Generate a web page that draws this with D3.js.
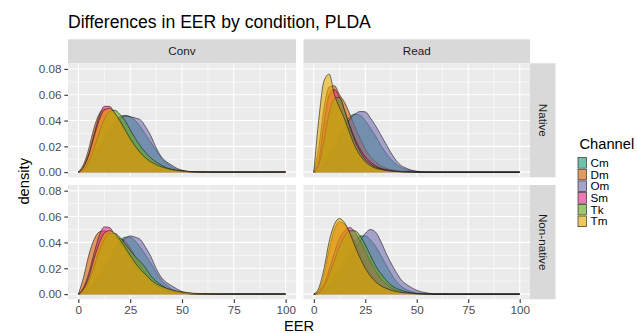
<!DOCTYPE html>
<html>
<head>
<meta charset="utf-8">
<script src="https://cdn.jsdelivr.net/npm/d3@7"></script>
<style>
  body { margin: 0; background: #fff; }
  svg { display: block; font-family: "Liberation Sans", Arial, sans-serif; }
</style>
</head>
<body>
<div id="chart"></div>
<script>

// EER grid the densities were read at
const eer = [0, 2.5, 5, 7.5, 10, 12.5, 15, 17.5, 20, 22.5, 25, 27.5, 30, 32.5, 35, 37.5, 40,
  42.5, 45, 47.5, 50, 52.5, 55, 57.5, 60, 65, 70, 80, 90, 100];

const channels = ["Cm", "Dm", "Om", "Sm", "Tk", "Tm"];
const channelColors = ["#1B9E77", "#D95F02", "#7570B3", "#E7298A", "#66A61E", "#E6AB02"];

const conditions = ["Conv", "Read"];
const nativeness = ["Native", "Non-native"];

const xTicks = [0, 25, 50, 75, 100];
const yTicks = [0, 0.02, 0.04, 0.06, 0.08];

// one row per channel, in the order of `channels`
const densConvNative = [
  [0, .002, .006, .012, .019, .027, .034, .039, .043, .044, .043, .040, .035, .029, .023, .017, .011, .007, .004, .002, .001, .0005, .0002, .0001, 0, 0, 0, 0, 0, 0],
  [0, .006, .018, .034, .045, .049, .048, .044, .038, .031, .025, .019, .014, .010, .007, .005, .0035, .0025, .0017, .0011, .0007, .0004, .0002, .0001, .0001, 0, 0, 0, 0, 0],
  [0, .0015, .005, .010, .016, .023, .030, .036, .041, .0435, .043, .042, .0405, .035, .028, .019, .012, .008, .0055, .003, .0015, .0007, .0003, .0001, 0, 0, 0, 0, 0, 0],
  [0, .004, .014, .029, .043, .051, .051, .046, .039, .032, .025, .019, .014, .010, .007, .005, .0035, .0024, .0016, .001, .0006, .0003, .0002, .0001, 0, 0, 0, 0, 0, 0],
  [0, .002, .008, .018, .030, .041, .047, .048, .045, .040, .033, .026, .020, .015, .011, .008, .0055, .0035, .0022, .0013, .0008, .0005, .0003, .0002, .0001, 0, 0, 0, 0, 0],
  [0, .004, .013, .027, .040, .048, .0495, .046, .040, .033, .026, .020, .015, .011, .008, .006, .0042, .003, .002, .0014, .0009, .0006, .0004, .0003, .0002, .0001, .0001, .0001, .0001, .0004]
];

const densReadNative = [
  [0, .002, .007, .014, .022, .031, .038, .043, .045, .044, .040, .034, .028, .021, .015, .010, .006, .0035, .002, .001, .0005, .0002, .0001, 0, 0, 0, 0, 0, 0, 0],
  [0, .020, .050, .066, .067, .060, .054, .045, .035, .026, .018, .012, .008, .005, .003, .002, .0012, .0007, .0004, .0002, .0001, 0, 0, 0, 0, 0, 0, 0, 0, 0],
  [0, .001, .004, .009, .016, .025, .034, .041, .045, .047, .0468, .042, .036, .029, .022, .015, .009, .005, .003, .0015, .0007, .0003, .0001, 0, 0, 0, 0, 0, 0, 0],
  [0, .010, .038, .060, .064, .058, .047, .036, .026, .018, .012, .008, .005, .003, .002, .0012, .0007, .0004, .0002, .0001, 0, 0, 0, 0, 0, 0, 0, 0, 0, 0],
  [0, .006, .025, .046, .057, .058, .048, .035, .024, .016, .010, .0065, .004, .0025, .0015, .0009, .0005, .0003, .0001, 0, 0, 0, 0, 0, 0, 0, 0, 0, 0, 0],
  [0, .042, .071, .076, .060, .050, .041, .030, .020, .013, .008, .005, .003, .002, .0013, .0008, .0005, .0003, .0002, .0001, 0, 0, 0, 0, 0, 0, 0, 0, 0, 0]
];

const densConvNonNative = [
  [0, .001, .004, .008, .014, .021, .029, .036, .041, .044, .044, .041, .036, .030, .024, .017, .011, .007, .004, .002, .001, .0005, .0002, .0001, 0, 0, 0, 0, 0, 0],
  [0, .013, .030, .042, .048, .049, .047, .044, .043, .041, .036, .029, .022, .016, .011, .0075, .005, .0033, .002, .0012, .0007, .0004, .0002, .0001, .0001, 0, 0, 0, 0, 0],
  [0, .001, .003, .007, .012, .018, .025, .032, .038, .043, .045, .044, .042, .036, .029, .020, .013, .009, .0065, .004, .002, .001, .0005, .0002, .0001, 0, 0, 0, 0, 0],
  [0, .005, .016, .031, .045, .052, .0515, .046, .040, .034, .028, .022, .017, .013, .009, .0065, .0045, .003, .002, .0012, .0007, .0004, .0002, .0001, 0, 0, 0, 0, 0, 0],
  [0, .003, .010, .021, .033, .042, .047, .047, .044, .039, .034, .029, .025, .020, .014, .010, .007, .0045, .003, .0018, .001, .0006, .0003, .0002, .0001, 0, 0, 0, 0, 0],
  [0, .004, .013, .027, .039, .047, .049, .047, .042, .036, .030, .024, .019, .015, .011, .008, .006, .0045, .0033, .0024, .0017, .0012, .0008, .0005, .0004, .0002, .0001, .0001, .0001, .0001]
];

const densReadNonNative = [
  [0, .001, .003, .008, .014, .021, .029, .036, .041, .045, .045, .042, .037, .030, .023, .016, .010, .006, .0035, .002, .001, .0005, .0002, .0001, 0, 0, 0, 0, 0, 0],
  [0, .003, .015, .035, .050, .056, .054, .048, .040, .031, .023, .016, .011, .007, .0045, .003, .002, .0012, .0007, .0004, .0002, .0001, 0, 0, 0, 0, 0, 0, 0, 0],
  [0, .0005, .002, .005, .009, .014, .020, .027, .034, .041, .047, .050, .048, .041, .032, .024, .017, .011, .0075, .005, .003, .0017, .0009, .0004, .0002, .0001, 0, 0, 0, 0],
  [0, .002, .008, .019, .032, .043, .049, .0515, .048, .041, .033, .025, .018, .012, .008, .005, .003, .0018, .001, .0006, .0003, .0001, 0, 0, 0, 0, 0, 0, 0, 0],
  [0, .001, .006, .015, .026, .037, .045, .049, .049, .045, .038, .030, .022, .016, .011, .007, .0045, .003, .0018, .001, .0005, .0002, .0001, 0, 0, 0, 0, 0, 0, 0],
  [0, .005, .020, .041, .054, .0585, .055, .047, .037, .028, .020, .014, .0095, .0065, .0045, .003, .002, .0013, .0009, .0006, .0004, .0002, .0001, 0, 0, 0, 0, 0, 0, 0]
];

// panels: [row][col]
const panelData = [
  [densConvNative, densReadNative],
  [densConvNonNative, densReadNonNative]
];

/*
  CANVAS
*/
const width = 637;
const height = 333;

const svg = d3.select("#chart")
  .append("svg")
  .attr("width", width)
  .attr("height", height);

svg.append("rect")
  .attr("width", width)
  .attr("height", height)
  .attr("fill", "#fff");

// facet layout
const colX = [[68, 296], [303.5, 530]];
const rowY = [[63.3, 177.3], [185, 299.3]];
const stripTop = 39.3;
const stripRight = [530, 555.5];

const xScales = colX.map(r => d3.scaleLinear().domain([-5, 105]).range(r));
const yScales = rowY.map(r => d3.scaleLinear().domain([-0.004, 0.0844]).range([r[1], r[0]]));

/*
  TITLE
*/
svg.append("text")
  .attr("x", 68)
  .attr("y", 27.5)
  .attr("font-size", 17.6)
  .attr("fill", "#000")
  .text("Differences in EER by condition, PLDA");

/*
  STRIPS
*/
conditions.forEach(function (c, j) {
  svg.append("rect")
    .attr("x", colX[j][0])
    .attr("y", stripTop)
    .attr("width", colX[j][1] - colX[j][0])
    .attr("height", rowY[0][0] - stripTop)
    .attr("fill", "#D9D9D9");
  svg.append("text")
    .attr("x", (colX[j][0] + colX[j][1]) / 2)
    .attr("y", (stripTop + rowY[0][0]) / 2)
    .attr("dy", "0.35em")
    .attr("text-anchor", "middle")
    .attr("font-size", 11.7)
    .attr("fill", "#1A1A1A")
    .text(c);
});

nativeness.forEach(function (n, i) {
  svg.append("rect")
    .attr("x", stripRight[0])
    .attr("y", rowY[i][0])
    .attr("width", stripRight[1] - stripRight[0])
    .attr("height", rowY[i][1] - rowY[i][0])
    .attr("fill", "#D9D9D9");
  const cx = (stripRight[0] + stripRight[1]) / 2;
  const cy = (rowY[i][0] + rowY[i][1]) / 2;
  svg.append("text")
    .attr("transform", `translate(${cx},${cy}) rotate(90)`)
    .attr("dy", "0.35em")
    .attr("text-anchor", "middle")
    .attr("font-size", 11.7)
    .attr("fill", "#1A1A1A")
    .text(n);
});

/*
  PANELS
*/
const xMinor = [12.5, 37.5, 62.5, 87.5];
const yMinor = [0.01, 0.03, 0.05, 0.07];

rowY.forEach(function (ry, i) {
  colX.forEach(function (cx, j) {
    const xs = xScales[j];
    const ys = yScales[i];
    const g = svg.append("g");

    g.append("rect")
      .attr("x", cx[0])
      .attr("y", ry[0])
      .attr("width", cx[1] - cx[0])
      .attr("height", ry[1] - ry[0])
      .attr("fill", "#EBEBEB");

    // grid
    g.selectAll(".xminor").data(xMinor).enter().append("line")
      .attr("x1", d => xs(d)).attr("x2", d => xs(d))
      .attr("y1", ry[0]).attr("y2", ry[1])
      .attr("stroke", "#fff").attr("stroke-width", 0.55);
    g.selectAll(".yminor").data(yMinor).enter().append("line")
      .attr("x1", cx[0]).attr("x2", cx[1])
      .attr("y1", d => ys(d)).attr("y2", d => ys(d))
      .attr("stroke", "#fff").attr("stroke-width", 0.55);
    g.selectAll(".xmajor").data(xTicks).enter().append("line")
      .attr("x1", d => xs(d)).attr("x2", d => xs(d))
      .attr("y1", ry[0]).attr("y2", ry[1])
      .attr("stroke", "#fff").attr("stroke-width", 1.1);
    g.selectAll(".ymajor").data(yTicks).enter().append("line")
      .attr("x1", cx[0]).attr("x2", cx[1])
      .attr("y1", d => ys(d)).attr("y2", d => ys(d))
      .attr("stroke", "#fff").attr("stroke-width", 1.1);

    // densities, Tm drawn last
    const series = panelData[i][j];

    const area = d3.area()
      .x((d, k) => xs(eer[k]))
      .y0(ys(0))
      .y1(d => ys(d))
      .curve(d3.curveMonotoneX);

    const line = d3.line()
      .x((d, k) => xs(eer[k]))
      .y(d => ys(d))
      .curve(d3.curveMonotoneX);

    series.forEach(function (vals, k) {
      g.append("path")
        .datum(vals)
        .attr("d", area)
        .attr("fill", channelColors[k])
        .attr("fill-opacity", 0.6)
        .attr("stroke", "none");
      g.append("path")
        .datum(vals)
        .attr("d", line)
        .attr("fill", "none")
        .attr("stroke", "#1a1a1a")
        .attr("stroke-width", 0.6);
    });
  });
});

/*
  AXES
*/
function styleAxis(sel) {
  sel.select(".domain").remove();
  sel.selectAll(".tick line").attr("stroke", "#333333").attr("stroke-width", 1.1);
  sel.selectAll(".tick text")
    .attr("fill", "#4D4D4D")
    .attr("font-size", 11.7)
    .attr("font-family", "Liberation Sans, Arial, sans-serif");
}

rowY.forEach(function (ry, i) {
  svg.append("g")
    .attr("transform", `translate(${colX[0][0]},0)`)
    .call(d3.axisLeft(yScales[i]).tickValues(yTicks).tickFormat(d3.format(".2f"))
      .tickSizeInner(3.7).tickSizeOuter(0).tickPadding(2.9))
    .call(styleAxis);
});

colX.forEach(function (cx, j) {
  svg.append("g")
    .attr("transform", `translate(0,${rowY[1][1]})`)
    .call(d3.axisBottom(xScales[j]).tickValues(xTicks).tickFormat(d3.format("d"))
      .tickSizeInner(3.7).tickSizeOuter(0).tickPadding(2.9))
    .call(styleAxis);
});

svg.append("text")
  .attr("x", (colX[0][0] + colX[1][1]) / 2)
  .attr("y", 330.5)
  .attr("text-anchor", "middle")
  .attr("font-size", 14.7)
  .attr("fill", "#000")
  .text("EER");

svg.append("text")
  .attr("transform", `translate(29,${(rowY[0][0] + rowY[1][1]) / 2}) rotate(-90)`)
  .attr("text-anchor", "middle")
  .attr("font-size", 14.7)
  .attr("fill", "#000")
  .text("density");

/*
  LEGEND
*/
const legend = svg.append("g").attr("transform", "translate(577.5,0)");

legend.append("text")
  .attr("x", 2)
  .attr("y", 148.5)
  .attr("font-size", 14.7)
  .attr("fill", "#000")
  .text("Channel");

const keyH = 11.7;
const keyTop = 157;

channels.forEach(function (c, k) {
  legend.append("rect")
    .attr("x", 0)
    .attr("y", keyTop + k * keyH)
    .attr("width", 9.5)
    .attr("height", keyH)
    .attr("fill", "#F2F2F2");
  legend.append("rect")
    .attr("x", 0.5)
    .attr("y", keyTop + k * keyH + 0.5)
    .attr("width", 8.5)
    .attr("height", keyH - 1)
    .attr("fill", channelColors[k])
    .attr("fill-opacity", 0.6)
    .attr("stroke", "#1a1a1a")
    .attr("stroke-width", 0.6);
  legend.append("text")
    .attr("x", 13)
    .attr("y", keyTop + k * keyH + keyH / 2)
    .attr("dy", "0.35em")
    .attr("font-size", 11.7)
    .attr("fill", "#000")
    .text(c);
});

</script>
</body>
</html>
